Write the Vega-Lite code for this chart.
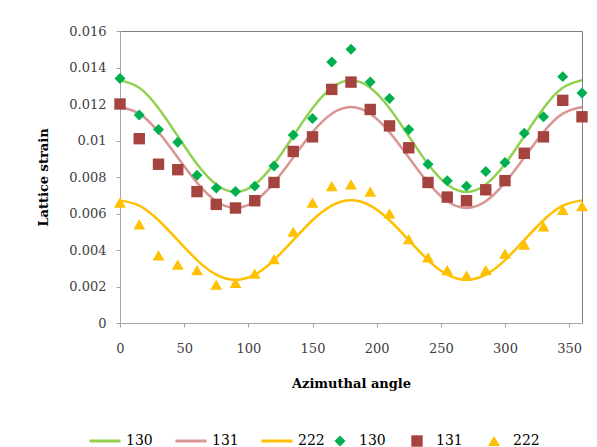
{
  "$schema": "https://vega.github.io/schema/vega-lite/v6.json",
  "width": 462,
  "height": 292,
  "autosize": "none",
  "padding": {"left": 120, "top": 31, "right": 15, "bottom": 124},
  "background": "white",
  "config": {
    "font": "DejaVu Serif",
    "view": {"stroke": "#7f7f7f", "strokeWidth": 1},
    "axis": {
      "grid": false,
      "domainColor": "#a6a6a6",
      "tickColor": "#a6a6a6",
      "tickSize": 4,
      "labelOverlap": false,
      "labelFlush": false,
      "labelFont": "DejaVu Serif",
      "labelFontSize": 13,
      "labelColor": "#404040",
      "titleFont": "DejaVu Serif",
      "titleFontSize": 13,
      "titleFontWeight": "bold",
      "titleColor": "#000000"
    },
    "legend": {
      "labelFont": "DejaVu Serif",
      "labelFontSize": 14,
      "labelColor": "#000000",
      "padding": 0
    }
  },
  "datasets": {
    "fit": [
      {"angle": 0, "strain": 0.01330, "series": "130"},
      {"angle": 15, "strain": 0.01289, "series": "130"},
      {"angle": 30, "strain": 0.01177, "series": "130"},
      {"angle": 45, "strain": 0.01024, "series": "130"},
      {"angle": 60, "strain": 0.00871, "series": "130"},
      {"angle": 75, "strain": 0.00759, "series": "130"},
      {"angle": 90, "strain": 0.00718, "series": "130"},
      {"angle": 105, "strain": 0.00759, "series": "130"},
      {"angle": 120, "strain": 0.00871, "series": "130"},
      {"angle": 135, "strain": 0.01024, "series": "130"},
      {"angle": 150, "strain": 0.01177, "series": "130"},
      {"angle": 165, "strain": 0.01289, "series": "130"},
      {"angle": 180, "strain": 0.01330, "series": "130"},
      {"angle": 195, "strain": 0.01289, "series": "130"},
      {"angle": 210, "strain": 0.01177, "series": "130"},
      {"angle": 225, "strain": 0.01024, "series": "130"},
      {"angle": 240, "strain": 0.00871, "series": "130"},
      {"angle": 255, "strain": 0.00759, "series": "130"},
      {"angle": 270, "strain": 0.00718, "series": "130"},
      {"angle": 285, "strain": 0.00759, "series": "130"},
      {"angle": 300, "strain": 0.00871, "series": "130"},
      {"angle": 315, "strain": 0.01024, "series": "130"},
      {"angle": 330, "strain": 0.01177, "series": "130"},
      {"angle": 345, "strain": 0.01289, "series": "130"},
      {"angle": 360, "strain": 0.01330, "series": "130"},
      {"angle": 0, "strain": 0.01184, "series": "131"},
      {"angle": 15, "strain": 0.01147, "series": "131"},
      {"angle": 30, "strain": 0.01046, "series": "131"},
      {"angle": 45, "strain": 0.00907, "series": "131"},
      {"angle": 60, "strain": 0.00769, "series": "131"},
      {"angle": 75, "strain": 0.00667, "series": "131"},
      {"angle": 90, "strain": 0.00630, "series": "131"},
      {"angle": 105, "strain": 0.00667, "series": "131"},
      {"angle": 120, "strain": 0.00769, "series": "131"},
      {"angle": 135, "strain": 0.00907, "series": "131"},
      {"angle": 150, "strain": 0.01046, "series": "131"},
      {"angle": 165, "strain": 0.01147, "series": "131"},
      {"angle": 180, "strain": 0.01184, "series": "131"},
      {"angle": 195, "strain": 0.01147, "series": "131"},
      {"angle": 210, "strain": 0.01046, "series": "131"},
      {"angle": 225, "strain": 0.00907, "series": "131"},
      {"angle": 240, "strain": 0.00769, "series": "131"},
      {"angle": 255, "strain": 0.00667, "series": "131"},
      {"angle": 270, "strain": 0.00630, "series": "131"},
      {"angle": 285, "strain": 0.00667, "series": "131"},
      {"angle": 300, "strain": 0.00769, "series": "131"},
      {"angle": 315, "strain": 0.00907, "series": "131"},
      {"angle": 330, "strain": 0.01046, "series": "131"},
      {"angle": 345, "strain": 0.01147, "series": "131"},
      {"angle": 360, "strain": 0.01184, "series": "131"},
      {"angle": 0, "strain": 0.00672, "series": "222"},
      {"angle": 15, "strain": 0.00643, "series": "222"},
      {"angle": 30, "strain": 0.00563, "series": "222"},
      {"angle": 45, "strain": 0.00454, "series": "222"},
      {"angle": 60, "strain": 0.00345, "series": "222"},
      {"angle": 75, "strain": 0.00265, "series": "222"},
      {"angle": 90, "strain": 0.00236, "series": "222"},
      {"angle": 105, "strain": 0.00265, "series": "222"},
      {"angle": 120, "strain": 0.00345, "series": "222"},
      {"angle": 135, "strain": 0.00454, "series": "222"},
      {"angle": 150, "strain": 0.00563, "series": "222"},
      {"angle": 165, "strain": 0.00643, "series": "222"},
      {"angle": 180, "strain": 0.00672, "series": "222"},
      {"angle": 195, "strain": 0.00643, "series": "222"},
      {"angle": 210, "strain": 0.00563, "series": "222"},
      {"angle": 225, "strain": 0.00454, "series": "222"},
      {"angle": 240, "strain": 0.00345, "series": "222"},
      {"angle": 255, "strain": 0.00265, "series": "222"},
      {"angle": 270, "strain": 0.00236, "series": "222"},
      {"angle": 285, "strain": 0.00265, "series": "222"},
      {"angle": 300, "strain": 0.00345, "series": "222"},
      {"angle": 315, "strain": 0.00454, "series": "222"},
      {"angle": 330, "strain": 0.00563, "series": "222"},
      {"angle": 345, "strain": 0.00643, "series": "222"},
      {"angle": 360, "strain": 0.00672, "series": "222"}
    ],
    "obs": [
      {"angle": 0, "strain": 0.0134, "series": "130"},
      {"angle": 15, "strain": 0.0114, "series": "130"},
      {"angle": 30, "strain": 0.0106, "series": "130"},
      {"angle": 45, "strain": 0.0099, "series": "130"},
      {"angle": 60, "strain": 0.0081, "series": "130"},
      {"angle": 75, "strain": 0.0074, "series": "130"},
      {"angle": 90, "strain": 0.0072, "series": "130"},
      {"angle": 105, "strain": 0.0075, "series": "130"},
      {"angle": 120, "strain": 0.0086, "series": "130"},
      {"angle": 135, "strain": 0.0103, "series": "130"},
      {"angle": 150, "strain": 0.0112, "series": "130"},
      {"angle": 165, "strain": 0.0143, "series": "130"},
      {"angle": 180, "strain": 0.0150, "series": "130"},
      {"angle": 195, "strain": 0.0132, "series": "130"},
      {"angle": 210, "strain": 0.0123, "series": "130"},
      {"angle": 225, "strain": 0.0106, "series": "130"},
      {"angle": 240, "strain": 0.0087, "series": "130"},
      {"angle": 255, "strain": 0.0078, "series": "130"},
      {"angle": 270, "strain": 0.0075, "series": "130"},
      {"angle": 285, "strain": 0.0083, "series": "130"},
      {"angle": 300, "strain": 0.0088, "series": "130"},
      {"angle": 315, "strain": 0.0104, "series": "130"},
      {"angle": 330, "strain": 0.0113, "series": "130"},
      {"angle": 345, "strain": 0.0135, "series": "130"},
      {"angle": 360, "strain": 0.0126, "series": "130"},
      {"angle": 0, "strain": 0.0120, "series": "131"},
      {"angle": 15, "strain": 0.0101, "series": "131"},
      {"angle": 30, "strain": 0.0087, "series": "131"},
      {"angle": 45, "strain": 0.0084, "series": "131"},
      {"angle": 60, "strain": 0.0072, "series": "131"},
      {"angle": 75, "strain": 0.0065, "series": "131"},
      {"angle": 90, "strain": 0.0063, "series": "131"},
      {"angle": 105, "strain": 0.0067, "series": "131"},
      {"angle": 120, "strain": 0.0077, "series": "131"},
      {"angle": 135, "strain": 0.0094, "series": "131"},
      {"angle": 150, "strain": 0.0102, "series": "131"},
      {"angle": 165, "strain": 0.0128, "series": "131"},
      {"angle": 180, "strain": 0.0132, "series": "131"},
      {"angle": 195, "strain": 0.0117, "series": "131"},
      {"angle": 210, "strain": 0.0108, "series": "131"},
      {"angle": 225, "strain": 0.0096, "series": "131"},
      {"angle": 240, "strain": 0.0077, "series": "131"},
      {"angle": 255, "strain": 0.0069, "series": "131"},
      {"angle": 270, "strain": 0.0067, "series": "131"},
      {"angle": 285, "strain": 0.0073, "series": "131"},
      {"angle": 300, "strain": 0.0078, "series": "131"},
      {"angle": 315, "strain": 0.0093, "series": "131"},
      {"angle": 330, "strain": 0.0102, "series": "131"},
      {"angle": 345, "strain": 0.0122, "series": "131"},
      {"angle": 360, "strain": 0.0113, "series": "131"},
      {"angle": 0, "strain": 0.0066, "series": "222"},
      {"angle": 15, "strain": 0.0054, "series": "222"},
      {"angle": 30, "strain": 0.0037, "series": "222"},
      {"angle": 45, "strain": 0.0032, "series": "222"},
      {"angle": 60, "strain": 0.0029, "series": "222"},
      {"angle": 75, "strain": 0.0021, "series": "222"},
      {"angle": 90, "strain": 0.0022, "series": "222"},
      {"angle": 105, "strain": 0.0027, "series": "222"},
      {"angle": 120, "strain": 0.0035, "series": "222"},
      {"angle": 135, "strain": 0.0050, "series": "222"},
      {"angle": 150, "strain": 0.0066, "series": "222"},
      {"angle": 165, "strain": 0.0075, "series": "222"},
      {"angle": 180, "strain": 0.0076, "series": "222"},
      {"angle": 195, "strain": 0.0072, "series": "222"},
      {"angle": 210, "strain": 0.0060, "series": "222"},
      {"angle": 225, "strain": 0.0046, "series": "222"},
      {"angle": 240, "strain": 0.0036, "series": "222"},
      {"angle": 255, "strain": 0.0029, "series": "222"},
      {"angle": 270, "strain": 0.0026, "series": "222"},
      {"angle": 285, "strain": 0.0029, "series": "222"},
      {"angle": 300, "strain": 0.0038, "series": "222"},
      {"angle": 315, "strain": 0.0043, "series": "222"},
      {"angle": 330, "strain": 0.0053, "series": "222"},
      {"angle": 345, "strain": 0.0062, "series": "222"},
      {"angle": 360, "strain": 0.0064, "series": "222"}
    ]
  },
  "encoding": {
    "x": {
      "field": "angle", "type": "quantitative",
      "scale": {"domain": [0, 360], "nice": false},
      "axis": {"values": [0, 50, 100, 150, 200, 250, 300, 350], "tickCount": 20, "title": "Azimuthal angle", "labelPadding": 15, "titlePadding": 22, "labelOverlap": false, "labelFlush": false}
    },
    "y": {
      "field": "strain", "type": "quantitative",
      "scale": {"domain": [0, 0.016], "nice": false},
      "axis": {"values": [0, 0.002, 0.004, 0.006, 0.008, 0.01, 0.012, 0.014, 0.016], "tickCount": 20, "format": ".3~f", "title": "Lattice strain", "labelPadding": 10, "titlePadding": 18, "labelOverlap": false, "labelFlush": false}
    }
  },
  "layer": [
    {
      "data": {"name": "fit"},
      "mark": {"type": "line", "interpolate": "natural", "strokeWidth": 2.5},
      "encoding": {
        "color": {
          "field": "series", "type": "nominal",
          "scale": {"domain": ["130", "131", "222"], "range": ["#92D050", "#D99694", "#FFC000"]},
          "legend": {
            "title": null, "orient": "none", "legendX": -32, "legendY": 393,
            "direction": "horizontal", "symbolType": "stroke", "symbolSize": 961,
            "symbolStrokeWidth": 3, "labelOffset": 4, "columnPadding": 16
          }
        }
      }
    },
    {
      "data": {"name": "obs"},
      "mark": {"type": "point", "filled": true, "opacity": 1},
      "encoding": {
        "size": {
          "field": "series", "type": "nominal",
          "scale": {"domain": ["130", "131", "222"], "range": [120, 140, 150]},
          "legend": null
        },
        "color": {
          "field": "series", "type": "nominal",
          "scale": {"domain": ["130", "131", "222"], "range": ["#00B050", "#A5443F", "#FFC000"]},
          "legend": {
            "title": null, "orient": "none", "legendX": 213, "legendY": 403,
            "direction": "horizontal", "symbolSize": 64, "labelOffset": 12, "columnPadding": 24
          }
        },
        "shape": {
          "field": "series", "type": "nominal",
          "scale": {"domain": ["130", "131", "222"], "range": ["diamond", "square", "triangle-up"]},
          "legend": {
            "title": null, "orient": "none", "legendX": 213, "legendY": 403,
            "direction": "horizontal", "symbolSize": 64, "labelOffset": 12, "columnPadding": 24
          }
        }
      }
    }
  ],
  "resolve": {
    "scale": {"color": "independent", "shape": "independent", "size": "independent"},
    "legend": {"color": "independent", "shape": "independent"}
  }
}
